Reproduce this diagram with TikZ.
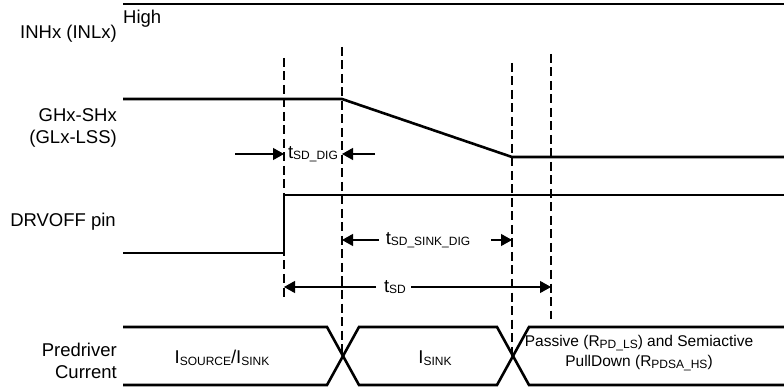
\documentclass[tikz,border=0pt]{standalone}
\usepackage{fontspec}
\setmainfont{Liberation Sans}
\usepackage{tikz}
\usetikzlibrary{
  positioning,
  calc,
  arrows.meta
}
\tikzstyle{signal}=[line width=2.6pt]
\tikzstyle{guide}=[line width=1.2pt, dash pattern=on 9pt off 4.5pt]
\tikzstyle{dimline}=[line width=1.2pt, -{Triangle[length=11pt,width=12pt]}]
\tikzstyle{lbl}=[inner sep=0pt, font=\fontsize{18.5}{22.5}\selectfont]
\tikzstyle{note}=[inner sep=0pt, font=\fontsize{15.5}{20}\selectfont]
\newcommand{\lowtxt}[1]{\raisebox{-1.5pt}{\fontsize{12}{13}\selectfont #1}}

\begin{document}
\begin{tikzpicture}[x=1pt, y=-1pt]
  \useasboundingbox (0,0) rectangle (784,387);

  % 時刻
  \coordinate (tA) at (284,0);
  \coordinate (tB) at (342,0);
  \coordinate (tC) at (512,0);
  \coordinate (tD) at (551,0);

  % 破線
  \draw[guide] (284,58) -- (284,298);
  \draw[guide] (342,47) -- (342,356);
  \draw[guide] (512,63) -- (512,356);
  \draw[guide] (551,54) -- (551,319);

  % 信号名
  \node[lbl, anchor=east] (inh) at (117,34) {INHx (INLx)};
  \node[lbl, anchor=east, align=right] (ghx) at (117,128) {GHx-SHx\\(GLx-LSS)};
  \node[lbl, anchor=east] (drv) at (116,222) {DRVOFF pin};
  \node[lbl, anchor=east, align=right] (pre) at (117,361) {Predriver\\Current};

  % 波形
  \draw[signal] (123,4) -- (784,4);
  \node[lbl, anchor=west] (high) at (123,19) {High};
  \draw[signal] (123,99) -- (342,99) -- (512,157) -- (784,157);
  \draw[signal] (123,253) -- (284,253) -- (284,195) -- (784,195);
  \draw[signal] (123,327) -- (327,327) -- (359,385) -- (497,385) -- (529,327) -- (784,327);
  \draw[signal] (123,385) -- (327,385) -- (359,327) -- (497,327) -- (529,385) -- (784,385);

  % 電流ラベル
  \node[lbl] (src) at (222,358) {I\lowtxt{SOURCE}/I\lowtxt{SINK}};
  \node[lbl] (sink) at (435,358) {I\lowtxt{SINK}};
  \node[note, align=center] (pass) at (639,353)
    {Passive (R\lowtxt{PD\_LS}) and Semiactive\\PullDown (R\lowtxt{PDSA\_HS})};

  % 時間幅
  \node[lbl] (sddig) at (313,154) {t\lowtxt{SD\_DIG}};
  \coordinate (sddigL) at (235,154);
  \coordinate (sddigR) at (375,154);
  \draw[dimline] (sddigL) -- (tA |- sddig);
  \draw[dimline] (sddigR) -- (tB |- sddig);

  \node[lbl] (sinkdig) at (428,240) {t\lowtxt{SD\_SINK\_DIG}};
  \coordinate (sinkL) at (379,240);
  \coordinate (sinkR) at (491,240);
  \draw[dimline] (sinkL) -- (tB |- sinkdig);
  \draw[dimline] (sinkR) -- (tC |- sinkdig);

  \node[lbl] (sd) at (395,287) {t\lowtxt{SD}};
  \coordinate (sdL) at (376,287);
  \coordinate (sdR) at (411,287);
  \draw[dimline] (sdL) -- (tA |- sd);
  \draw[dimline] (sdR) -- (tD |- sd);
\end{tikzpicture}
\end{document}
